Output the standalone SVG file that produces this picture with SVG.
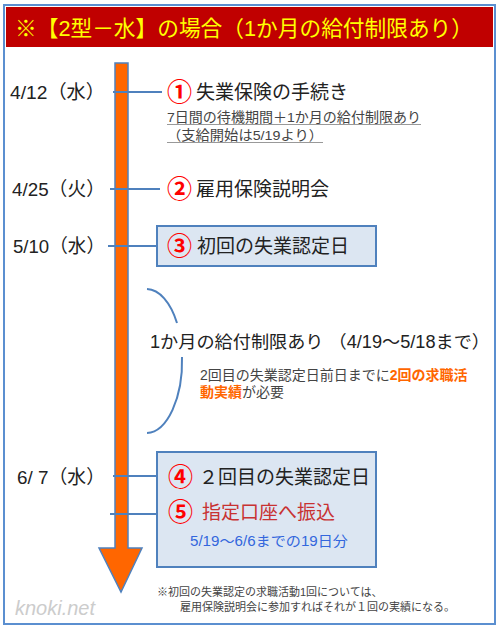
<svg xmlns="http://www.w3.org/2000/svg" width="500" height="629" viewBox="0 0 500 629">
<style>
text{font-family:"Liberation Sans","Noto Sans CJK JP",sans-serif;fill:#222}
.date{font-size:19px}
.num{font-size:25px;fill:#ff0000;font-weight:bold;font-family:"Noto Sans CJK JP",sans-serif}
.big{font-size:19px}
.sub{font-size:13.5px;fill:#444}
.tick{stroke:#4f81bd;stroke-width:2;fill:none}
.box{fill:#dce6f2;stroke:#4f81bd;stroke-width:2}
.ul{stroke:#999;stroke-width:1}
.fn{font-size:11px;fill:#444}
</style>
<rect x="4" y="5" width="491" height="619" fill="#fff" stroke="#5b8fd0" stroke-width="2"/>
<g id="title">
<rect x="6" y="7" width="487" height="40" fill="#c00000"/>
<text x="15" y="36" font-size="22" style="fill:#ffff00" textLength="458" lengthAdjust="spacingAndGlyphs">※【2型－水】の場合（1か月の給付制限あり）</text>
</g>
<g id="timeline">
<path d="M115,63 H128 V548 H142 L121,592 L99,548 H115 Z" fill="#ff6600" stroke="#4f81bd" stroke-width="1.5"/>
</g>
<g id="connectors">
<line class="tick" x1="113" y1="92" x2="162" y2="92"/>
<line class="tick" x1="110" y1="189" x2="160" y2="189"/>
<line class="tick" x1="108" y1="246" x2="157" y2="246"/>
<line class="tick" x1="113" y1="476" x2="157" y2="476"/>
<line class="tick" x1="110" y1="514" x2="157" y2="514"/>
<path class="tick" d="M147,289 A36,72 0 0 1 177,323"/>
<path class="tick" d="M182,357 A36,72 0 0 1 147,433"/>
</g>
<g id="step1">
<text class="date" x="10" y="99" textLength="95" lengthAdjust="spacingAndGlyphs">4/12（水）</text>
<text class="num" x="167" y="101">①</text>
<text class="big" x="196" y="99">失業保険の手続き</text>
<text class="sub" x="167" y="122" textLength="254" lengthAdjust="spacingAndGlyphs">7日間の待機期間＋1か月の給付制限あり</text>
<line class="ul" x1="167" y1="124.5" x2="421" y2="124.5"/>
<text class="sub" x="167" y="140" textLength="156" lengthAdjust="spacingAndGlyphs">（支給開始は5/19より）</text>
<line class="ul" x1="167" y1="142.5" x2="323" y2="142.5"/>
</g>
<g id="step2">
<text class="date" x="12" y="196" textLength="93" lengthAdjust="spacingAndGlyphs">4/25（火）</text>
<text class="num" x="167" y="198">②</text>
<text class="big" x="196" y="196">雇用保険説明会</text>
</g>
<g id="step3">
<text class="date" x="13" y="253" textLength="92" lengthAdjust="spacingAndGlyphs">5/10（水）</text>
<rect class="box" x="157" y="226" width="219" height="40"/>
<text class="num" x="167" y="255">③</text>
<text class="big" x="197" y="253">初回の失業認定日</text>
</g>
<g id="restriction">
<text x="150" y="348" font-size="17.5" textLength="340" lengthAdjust="spacingAndGlyphs">1か月の給付制限あり （4/19～5/18まで）</text>
<text x="200" y="380" font-size="14" style="fill:#444">2回目の失業認定日前日までに<tspan style="fill:#ff6600;font-weight:bold">2回の求職活</tspan></text>
<text x="200" y="397" font-size="14" style="fill:#444"><tspan style="fill:#ff6600;font-weight:bold">動実績</tspan>が必要</text>
</g>
<g id="step45">
<text class="date" x="17" y="484" textLength="88" lengthAdjust="spacingAndGlyphs">6/ 7（水）</text>
<rect class="box" x="157" y="452" width="219" height="115"/>
<text class="num" x="168" y="486">④</text>
<text class="big" x="199" y="484">２回目の失業認定日</text>
<text class="num" x="168" y="521">⑤</text>
<text class="big" x="202" y="519" style="fill:#c83232">指定口座へ振込</text>
<text x="190" y="546" font-size="14" style="fill:#3366dd" textLength="158" lengthAdjust="spacingAndGlyphs">5/19～6/6までの19日分</text>
</g>
<g id="footnote">
<text class="fn" x="157" y="596">※初回の失業認定の求職活動1回については、</text>
<text class="fn" x="180" y="611">雇用保険説明会に参加すればそれが１回の実績になる。</text>
<text x="15" y="615" font-size="20" font-style="italic" style="fill:#cccccc">knoki.net</text>
</g>
</svg>
